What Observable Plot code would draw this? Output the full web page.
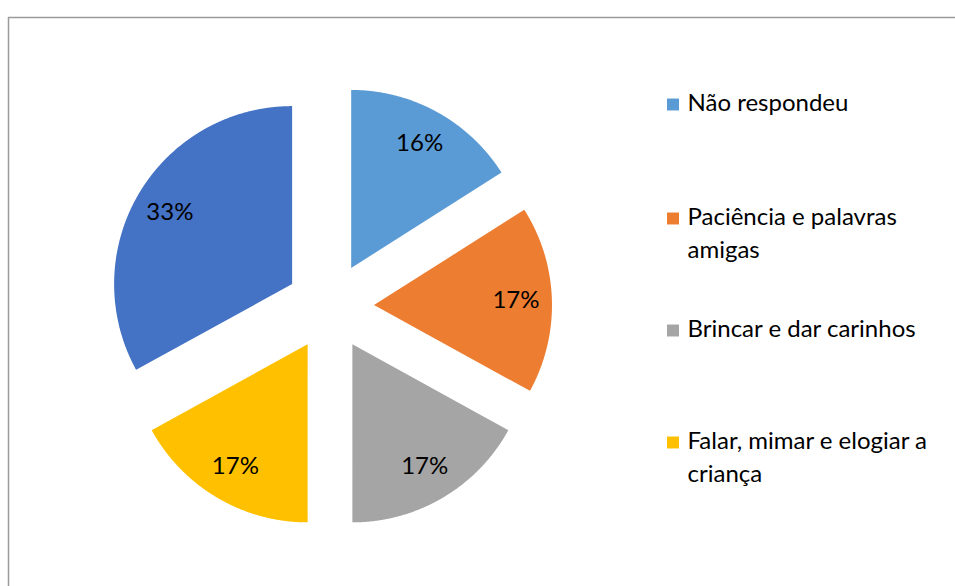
<!DOCTYPE html>
<html>
<head>
<meta charset="utf-8">
<script src="https://cdn.jsdelivr.net/npm/d3@7"></script>
<script src="https://cdn.jsdelivr.net/npm/@observablehq/plot@0.6"></script>
<style>
  html, body { margin: 0; padding: 0; background: #fff; }
  #chart svg { display: block; }
</style>
</head>
<body>
<div id="chart"></div>
<script>
// ---- Data ----
const categories = ["Não respondeu", "Paciência e palavras amigas", "Brincar e dar carinhos", "Falar, mimar e elogiar a criança", "Outro"];
const values = [16, 17, 17, 17, 33];
const labels = ["16%", "17%", "17%", "17%", "33%"];
const colors = ["#5B9BD5", "#ED7D31", "#A5A5A5", "#FFC000", "#4472C4"];
const legendCategories = ["Não respondeu", "Paciência e palavras amigas", "Brincar e dar carinhos", "Falar, mimar e elogiar a criança"];
const legendLines = [["Não respondeu"], ["Paciência e palavras", "amigas"], ["Brincar e dar carinhos"], ["Falar, mimar e elogiar a", "criança"]];

// ---- Layout ----
const W = 955, H = 586;
const cx = 329.5, cy = 306, R = 178, explode = 44, labelR = 142;
const font = "Lato, 'Open Sans', sans-serif";
const fs = 24;

const pie = d3.pie().sort(null).value(d => d.value);
const arcs = pie(categories.map((c, i) => ({cat: c, value: values[i], label: labels[i]})));

const slicePts = [];
const labelPts = [];
arcs.forEach(a => {
  const mid = (a.startAngle + a.endAngle) / 2;
  const vx = cx + explode * Math.sin(mid), vy = cy - explode * Math.cos(mid);
  slicePts.push({key: a.data.cat, x: vx, y: vy});
  const n = Math.max(2, Math.ceil((a.endAngle - a.startAngle) / (Math.PI / 720)));
  for (let k = 0; k <= n; k++) {
    const t = a.startAngle + (a.endAngle - a.startAngle) * k / n;
    slicePts.push({key: a.data.cat, x: vx + R * Math.sin(t), y: vy - R * Math.cos(t)});
  }
  labelPts.push({label: a.data.label, x: vx + labelR * Math.sin(mid), y: vy - labelR * Math.cos(mid)});
});

// legend layout
const legX = 672.5, legTextX = 687;
const legY = [103, 217, 329, 441];
const lineH = 32.5;
const legSwatches = legendCategories.map((c, i) => ({key: c, x: legX, y: legY[i] + 1}));
const legTexts = [];
legendLines.forEach((ls, i) => ls.forEach((t, j) => legTexts.push({text: t, x: legTextX, y: legY[i] + j * lineH})));

const plot = Plot.plot({
  width: W, height: H,
  margin: 0,
  x: {domain: [0, W], range: [0, W], axis: null},
  y: {domain: [0, H], range: [0, H], axis: null},
  color: {domain: categories, range: colors},
  style: {fontFamily: font, background: "#fff"},
  marks: [
    Plot.ruleY([17], {x1: 8, x2: W, stroke: "#9a9a9a", strokeWidth: 1.5}),
    Plot.ruleX([8], {y1: 17, y2: H, stroke: "#9a9a9a", strokeWidth: 1.5}),
    Plot.line(slicePts, {x: "x", y: "y", z: "key", fill: "key", stroke: null, curve: "linear-closed"}),
    Plot.text(labelPts, {x: "x", y: "y", text: "label", fontSize: fs, fill: "#000", textAnchor: "middle"}),
    Plot.dot(legSwatches, {x: "x", y: "y", symbol: "square", r: 6.75, fill: "key", stroke: null}),
    Plot.text(legTexts, {x: "x", y: "y", text: "text", fontSize: fs, fill: "#000", textAnchor: "start"})
  ]
});
document.getElementById("chart").appendChild(plot);
</script>
</body>
</html>
